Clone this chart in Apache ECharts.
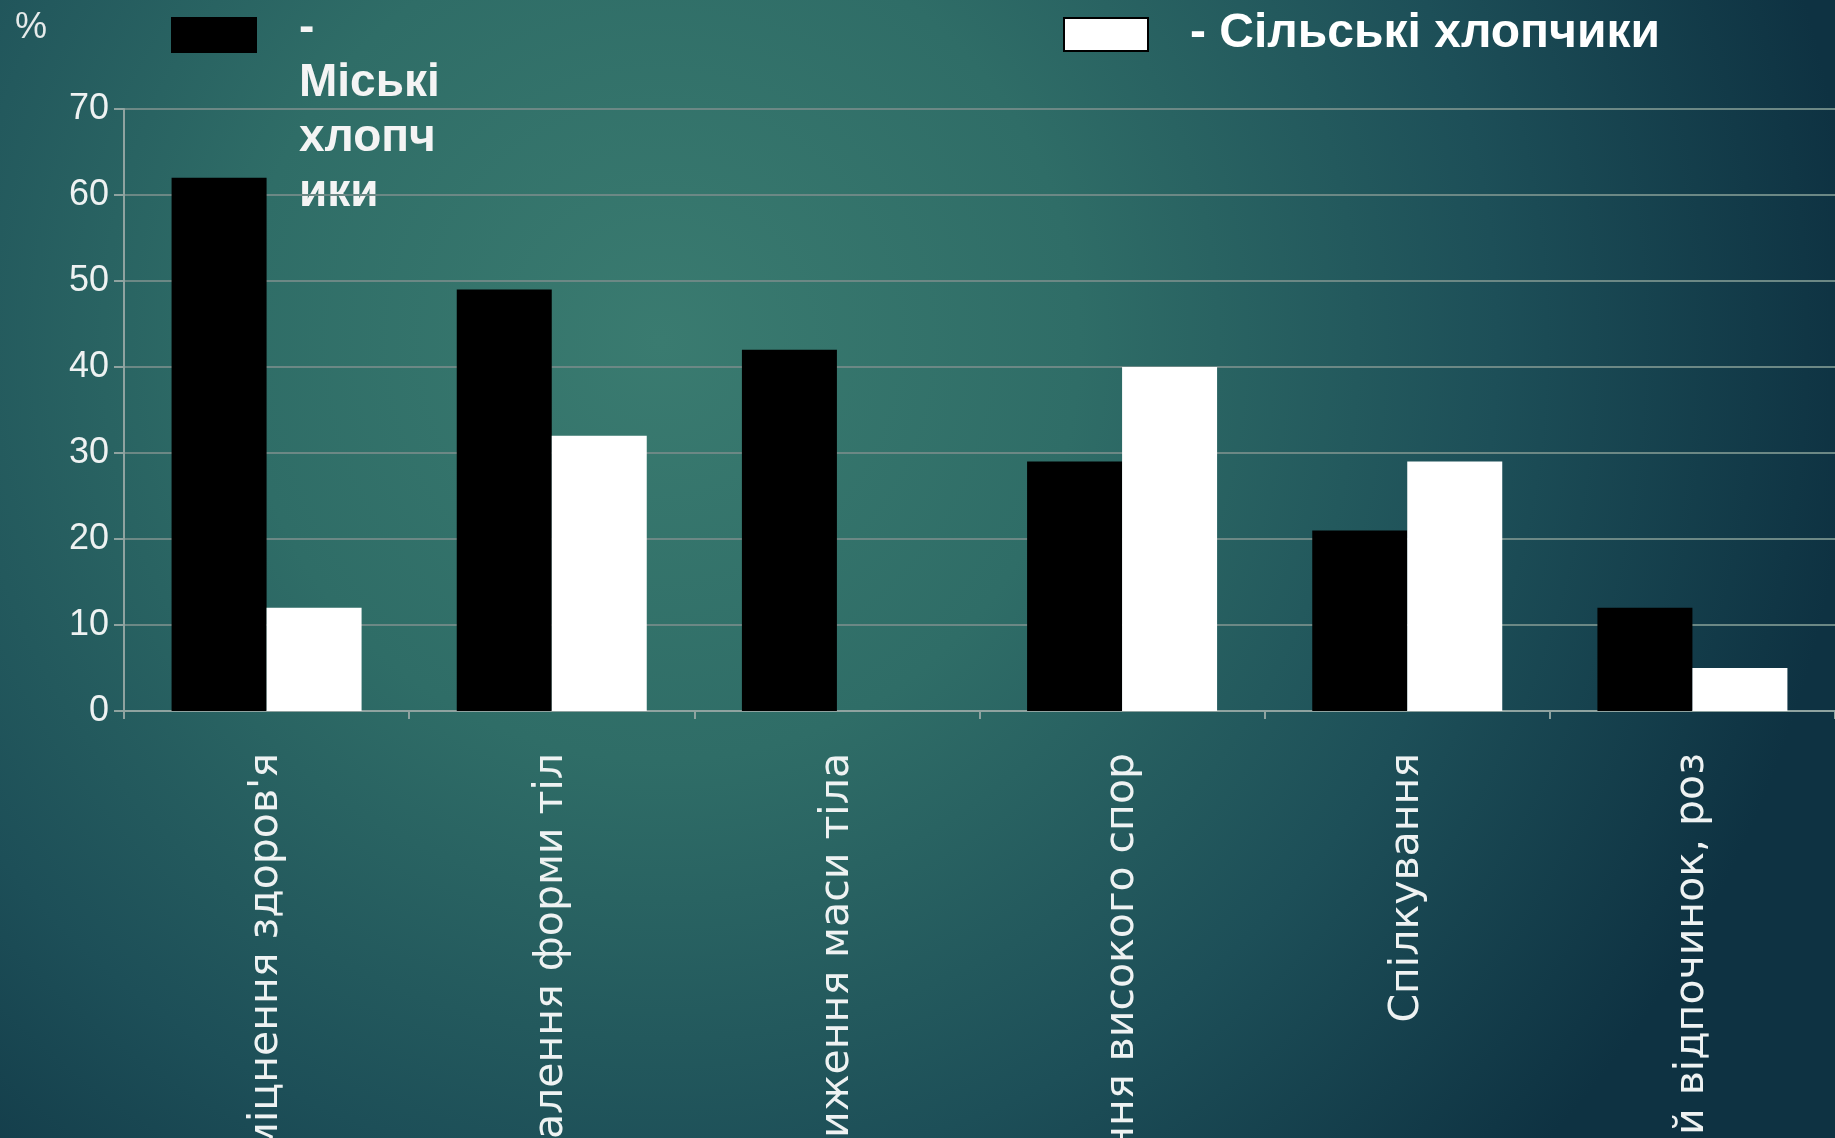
<!DOCTYPE html>
<html>
<head>
<meta charset="utf-8">
<style>
  html, body { margin: 0; padding: 0; background: #0f3646; }
  #chart { width: 1835px; height: 1138px; }
</style>
<script src="https://cdn.jsdelivr.net/npm/echarts@6/dist/echarts.min.js"></script>
</head>
<body>
<div id="chart"></div>
<script>
// Motives for physical activity, % of boys (urban vs rural)
const categories = [
  'Зміцнення здоров\'я',
  'Вдосконалення форми тіла',
  'Зниження маси тіла',
  'Досягнення високого спортивного результату',
  'Спілкування',
  'Активний відпочинок, розваги'
];
const urbanBoys = [62, 49, 42, 29, 21, 12];
const ruralBoys = [12, 32, 0, 40, 29, 5];
const seriesNames = ['Міські хлопчики', 'Сільські хлопчики'];
const yTicks = { min: 0, max: 70, interval: 10 };
const unitLabel = '%';
// legend caption for the urban series, laid out in a narrow column
const urbanLegendLines = ['-', 'Міські', 'хлопч', 'ики'];
const ruralLegendText = '- ' + seriesNames[1];

const categoryFont = '41px "DejaVu Sans"';
const categoryLabelWidth = 580;
const categoryLabelMargin = 42;

// cut a caption to a pixel width, character by character, with no ellipsis
const measureCtx = document.createElement('canvas').getContext('2d');
function clipCaption(text, maxWidth, font) {
  measureCtx.font = font;
  let out = '';
  for (const ch of text) {
    if (measureCtx.measureText(out + ch).width > maxWidth) break;
    out += ch;
  }
  return out;
}

const chart = echarts.init(document.getElementById('chart'), null, { renderer: 'canvas' });

const option = {
  backgroundColor: {
    type: 'radial', x: 0.36, y: 0.3, r: 1.05,
    colorStops: [
      { offset: 0, color: '#3a7b70' },
      { offset: 0.35, color: '#2f6d67' },
      { offset: 0.7, color: '#1d4f58' },
      { offset: 1, color: '#0e3242' }
    ]
  },
  animation: false,
  grid: {
    left: 124, right: 0, top: 109, bottom: 427,
    containLabel: false,
    outerBoundsMode: 'none'
  },
  xAxis: {
    type: 'category',
    data: categories,
    axisLine: { show: true, lineStyle: { color: '#8fa3a0', width: 2 } },
    axisTick: {
      show: true, interval: 0, length: 8, alignWithLabel: false,
      lineStyle: { color: '#8fa3a0', width: 2 }
    },
    // captions are drawn below as vertical text so long ones can run off the page
    axisLabel: { show: false },
    splitLine: { show: false }
  },
  yAxis: {
    type: 'value',
    min: yTicks.min,
    max: yTicks.max,
    interval: yTicks.interval,
    axisLine: { show: true, lineStyle: { color: '#8fa3a0', width: 2 } },
    axisTick: { show: true, length: 10, lineStyle: { color: '#8fa3a0', width: 2 } },
    axisLabel: {
      margin: 15,
      color: '#eef2f2',
      fontFamily: 'Liberation Sans',
      fontSize: 36
    },
    splitLine: { show: true, lineStyle: { color: '#6c8885', width: 2 } }
  },
  series: [
    {
      name: seriesNames[0],
      type: 'bar',
      data: urbanBoys,
      barWidth: 95,
      barGap: '0%',
      itemStyle: { color: '#000000' }
    },
    {
      name: seriesNames[1],
      type: 'bar',
      data: ruralBoys,
      barWidth: 95,
      barGap: '0%',
      itemStyle: { color: '#ffffff' }
    }
  ],
  graphic: [
    {
      type: 'text', left: 15, top: 10,
      style: { text: unitLabel, fill: '#e6eaea', font: '36px "Liberation Sans"' }
    },
    {
      type: 'rect', shape: { x: 171, y: 17, width: 86, height: 36 },
      style: { fill: '#000000' }
    },
    {
      type: 'text', x: 299, y: 1,
      style: {
        text: urbanLegendLines.join('\n'),
        fill: '#f4f4f4',
        font: 'bold 46px "Liberation Sans"',
        lineHeight: 55,
        verticalAlign: 'top'
      }
    },
    {
      type: 'rect', shape: { x: 1064, y: 18, width: 84, height: 33 },
      style: { fill: '#ffffff', stroke: '#000000', lineWidth: 2 }
    },
    {
      type: 'text', x: 1190, y: 34,
      style: {
        text: ruralLegendText,
        fill: '#ffffff',
        font: 'bold 48px "Liberation Sans"',
        verticalAlign: 'middle'
      }
    }
  ]
};

chart.setOption(option);

// vertical category captions, anchored under each category centre of the x axis
const axisY = chart.convertToPixel({ yAxisIndex: 0 }, 0);
const captionGraphics = categories.map(function (name, i) {
  const cx = chart.convertToPixel({ xAxisIndex: 0 }, name);
  return {
    id: 'caption' + i,
    type: 'text',
    x: cx,
    y: axisY + categoryLabelMargin,
    rotation: Math.PI / 2,
    style: {
      text: clipCaption(name, categoryLabelWidth, categoryFont),
      font: categoryFont,
      fill: '#eef2f2',
      align: 'right',
      verticalAlign: 'middle'
    }
  };
});
chart.setOption({ graphic: captionGraphics });
</script>
</body>
</html>
